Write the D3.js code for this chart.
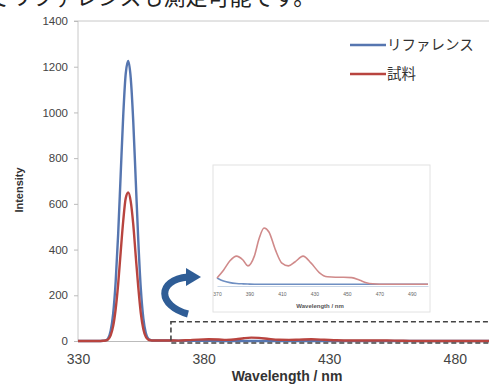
<!DOCTYPE html>
<html>
<head>
<meta charset="utf-8">
<script src="https://cdn.jsdelivr.net/npm/d3@7"></script>
<style>
  body { margin: 0; background: #fff; }
  svg { display: block; }
</style>
</head>
<body>
<svg id="chart" width="489" height="385"></svg>
<script>
// spectrum data (nm, intensity)
const wavelengths = [330, 335, 338, 340, 341, 342, 343, 344, 345, 346, 347, 348, 349, 350, 351, 352, 353, 354, 355, 356, 357, 358, 359, 360, 363, 366,
  370, 374, 378, 382, 386, 389, 393, 396, 399, 402, 406, 410, 414, 418, 423, 428, 433, 438, 443, 448, 453, 458, 462, 466, 470, 480, 490, 500]
const referenceValues = [0, 0, 0, 1, 3, 12, 45, 120, 260, 470, 730, 985, 1170, 1225, 1150, 960, 700, 440, 230, 100, 35, 10, 4, 2, 2, 2,
  1.8, 1.0, 0.6, 0.4, 0.3, 0.25, 0.2, 0.2, 0.2, 0.2, 0.2, 0.2, 0.2, 0.2, 0.2, 0.2, 0.2, 0.2, 0.2, 0.2, 0.2, 0.2, 0.2, 0.2, 0.2, 0.2, 0.2, 0.2]
const sampleValues = [0, 0, 0, 1, 2, 7, 25, 65, 140, 250, 390, 525, 625, 650, 610, 510, 370, 235, 122, 53, 19, 6, 3, 2, 2, 2,
  1.8, 3.8, 6.2, 7.4, 6.4, 4.9, 7.4, 12, 14.6, 13.6, 9, 5.6, 4.9, 5.9, 7.4, 5.6, 3.2, 2.1, 2, 2, 1.9, 1.2, 0.6, 0.3, 0.2, 0.2, 0.2, 0.2]

const seriesNames = ["リファレンス", "試料"]
const seriesColors = ["#5676b0", "#b8443f"]
const yTicks = [0, 200, 400, 600, 800, 1000, 1200, 1400]
const xTicks = [330, 380, 430, 480]
const insetTicks = [370, 390, 410, 430, 450, 470, 490]

const svg = d3.select("#chart")

// clipped caption line from the page above the chart
svg.append("text")
  .attr("x", -12)
  .attr("y", 5)
  .style("font-family", "'Noto Sans CJK JP'")
  .style("font-size", "22px")
  .attr("fill", "#222")
  .text("でリファレンスも測定可能です。")

const x = d3.scaleLinear().domain([330, 500]).range([78, 505])
const y = d3.scaleLinear().domain([0, 1400]).range([341, 21])

const points = s => wavelengths.map((w, i) => [w, s[i]])
const series = [points(referenceValues), points(sampleValues)]

// frame lines
svg.append("line")
  .attr("x1", 74).attr("x2", 489)
  .attr("y1", y(1400)).attr("y2", y(1400))
  .attr("stroke", "#c8c8c8")
svg.append("line")
  .attr("x1", x(330)).attr("x2", x(330))
  .attr("y1", y(1400)).attr("y2", y(0))
  .attr("stroke", "#c8c8c8")

const yAxis = svg.append("g")
  .attr("transform", `translate(${x(330)},0)`)
  .call(d3.axisLeft(y).tickValues(yTicks).tickFormat(d3.format("d")).tickSize(4).tickPadding(6))
yAxis.select(".domain").remove()
yAxis.selectAll("line").attr("stroke", "#bbb")
yAxis.selectAll("text")
  .style("font-family", "'Liberation Sans', Arial")
  .style("font-size", "11.5px")
  .attr("fill", "#444")

const xAxis = svg.append("g")
  .attr("transform", `translate(0,${y(0)})`)
  .call(d3.axisBottom(x).tickValues(xTicks).tickSize(0).tickPadding(13))
xAxis.select(".domain").attr("stroke", "#bbb")
xAxis.selectAll("text")
  .style("font-family", "'Liberation Sans', Arial")
  .style("font-size", "14px")
  .attr("fill", "#444")

svg.append("text")
  .attr("x", 287).attr("y", 381)
  .attr("text-anchor", "middle")
  .style("font-family", "'Liberation Sans', Arial")
  .style("font-size", "14px")
  .style("font-weight", "bold")
  .attr("fill", "#333")
  .text("Wavelength / nm")

svg.append("text")
  .attr("transform", "translate(23,190) rotate(-90)")
  .attr("text-anchor", "middle")
  .style("font-family", "'Liberation Sans', Arial")
  .style("font-size", "11px")
  .style("font-weight", "bold")
  .attr("fill", "#333")
  .text("Intensity")

const line = d3.line()
  .x(d => x(d[0]))
  .y(d => y(d[1]))
  .curve(d3.curveMonotoneX)

series.forEach((s, i) => {
  svg.append("path")
    .datum(s)
    .attr("fill", "none")
    .attr("stroke", seriesColors[i])
    .attr("stroke-width", 2.4)
    .attr("d", line)
})

// legend
seriesNames.forEach((name, i) => {
  const ly = 45 + i * 29
  svg.append("line")
    .attr("x1", 350).attr("x2", 386)
    .attr("y1", ly).attr("y2", ly)
    .attr("stroke", seriesColors[i])
    .attr("stroke-width", 2.4)
  svg.append("text")
    .attr("x", 387).attr("y", ly + 5)
    .style("font-family", "'Noto Sans CJK JP'")
    .style("font-size", "14.5px")
    .attr("fill", "#333")
    .text(name)
})

// dashed zoom region
svg.append("rect")
  .attr("x", x(367)).attr("y", y(84))
  .attr("width", 489 - x(367) + 10)
  .attr("height", y(-9) - y(84))
  .attr("fill", "none")
  .attr("stroke", "#444")
  .attr("stroke-width", 1.6)
  .attr("stroke-dasharray", "5,3")

// curved arrow pointing to the inset
svg.append("path")
  .attr("d", "M188,314 C158,306 156,280 188,277")
  .attr("fill", "none")
  .attr("stroke", "#2f5d96")
  .attr("stroke-width", 7)
svg.append("path")
  .attr("d", "M186,268 L201,277 L186,286 Z")
  .attr("fill", "#2f5d96")

// inset
const ix = d3.scaleLinear().domain([370, 500]).range([217, 428])
const iy = d3.scaleLinear().domain([0, 30]).range([285, 168])

svg.append("rect")
  .attr("x", 213).attr("y", 165)
  .attr("width", 217).attr("height", 147)
  .attr("fill", "#fff")
  .attr("stroke", "#e2e2e2")

const insetAxis = svg.append("g")
  .attr("transform", `translate(0,${iy(0) + 1})`)
  .call(d3.axisBottom(ix).tickValues(insetTicks).tickSize(0).tickPadding(6))
insetAxis.select(".domain").attr("stroke", "#c9d6e6")
insetAxis.selectAll("text")
  .style("font-family", "'Liberation Sans', Arial")
  .style("font-size", "5px")
  .attr("fill", "#666")

svg.append("text")
  .attr("x", 320).attr("y", 308)
  .attr("text-anchor", "middle")
  .style("font-family", "'Liberation Sans', Arial")
  .style("font-size", "6px")
  .style("font-weight", "bold")
  .attr("fill", "#555")
  .text("Wavelength / nm")

const insetLine = d3.line()
  .x(d => ix(d[0]))
  .y(d => iy(d[1]))
  .curve(d3.curveMonotoneX)

series.forEach((s, i) => {
  svg.append("path")
    .datum(s.filter(d => d[0] >= 370))
    .attr("fill", "none")
    .attr("stroke", i === 0 ? "#6f8fc2" : "#d08a8a")
    .attr("stroke-width", 1.6)
    .attr("d", insetLine)
})
</script>
</body>
</html>
